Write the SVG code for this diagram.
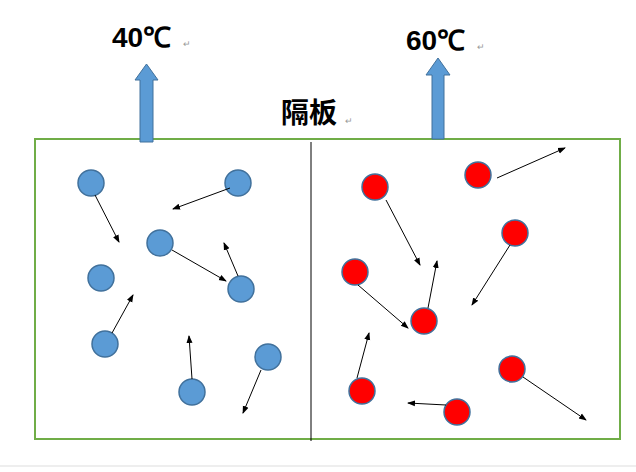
<svg xmlns="http://www.w3.org/2000/svg" width="636" height="472" viewBox="0 0 636 472">
<style>
.b{fill:#5B9BD5;stroke:#41719C;stroke-width:1.5}
.r{fill:#FF0000;stroke:#41719C;stroke-width:1.5}
.t{font-family:"Liberation Sans",Arial,sans-serif;font-size:28px;font-weight:bold;fill:#000}
.m{font-family:"Liberation Sans",sans-serif;font-size:9px;fill:#999}
#conn line{stroke:#000;stroke-width:1;marker-end:url(#ah)}
</style>
<defs><marker id="ah" markerWidth="8" markerHeight="8" refX="7" refY="4" orient="auto" markerUnits="userSpaceOnUse"><path d="M0,1 L8,4 L0,7 Z" fill="#000"/></marker></defs>
<rect width="636" height="472" fill="#fff"/>
<line x1="0" y1="466" x2="636" y2="466" stroke="#ddd"/>
<g id="box"><rect x="35" y="139" width="585" height="300" fill="none" stroke="#70AD47" stroke-width="2"/>
<line x1="311" y1="142" x2="311" y2="441" stroke="#000" stroke-width="1"/></g>
<g id="hot-arrow-left"><polygon points="140,142 140,80 135,80 146.5,64 158,80 153,80 153,142" fill="#5B9BD5" stroke="#41719C"/></g>
<g id="hot-arrow-right"><polygon points="432,139 432,75 426,75 438,58 450,75 444,75 444,139" fill="#5B9BD5" stroke="#41719C"/></g>
<g id="labels">
<text class="t" x="112" y="47">40℃</text><text class="m" x="183" y="47">↵</text>
<text class="t" x="406" y="50">60℃</text><text class="m" x="477" y="50">↵</text>
<text x="281" y="123" style="font-family:'Noto Sans CJK SC',sans-serif;font-size:28px;font-weight:bold;fill:#000">隔板</text><text class="m" x="345" y="124">↵</text>
</g>
<g id="blue">
<circle class="b" cx="91" cy="183" r="13"/><circle class="b" cx="238" cy="183" r="13"/>
<circle class="b" cx="160" cy="243" r="13"/><circle class="b" cx="101" cy="278" r="13"/>
<circle class="b" cx="241" cy="289" r="13"/><circle class="b" cx="105" cy="344" r="13"/>
<circle class="b" cx="268" cy="357" r="13"/><circle class="b" cx="192" cy="392" r="13"/>
</g>
<g id="red">
<circle class="r" cx="375" cy="187" r="13"/><circle class="r" cx="478" cy="175" r="13"/>
<circle class="r" cx="515" cy="233" r="13"/><circle class="r" cx="355" cy="272" r="13"/>
<circle class="r" cx="424" cy="321" r="13"/><circle class="r" cx="512" cy="369" r="13"/>
<circle class="r" cx="362" cy="391" r="13"/><circle class="r" cx="457" cy="412" r="13"/>
</g>
<g id="conn">
<line x1="95" y1="195" x2="119" y2="242"/>
<line x1="230" y1="188" x2="173" y2="209"/>
<line x1="172" y1="250" x2="226" y2="281"/>
<line x1="238" y1="276" x2="224" y2="243"/>
<line x1="112" y1="333" x2="133" y2="295"/>
<line x1="192" y1="379" x2="189" y2="336"/>
<line x1="261" y1="370" x2="243" y2="413"/>
<line x1="497" y1="178" x2="565" y2="148"/>
<line x1="386" y1="200" x2="420" y2="265"/>
<line x1="510" y1="245" x2="472" y2="305"/>
<line x1="358" y1="285" x2="408" y2="328"/>
<line x1="428" y1="308" x2="437" y2="261"/>
<line x1="523" y1="377" x2="586" y2="420"/>
<line x1="357" y1="378" x2="369" y2="333"/>
<line x1="446" y1="405" x2="408" y2="403"/>
</g>
</svg>
